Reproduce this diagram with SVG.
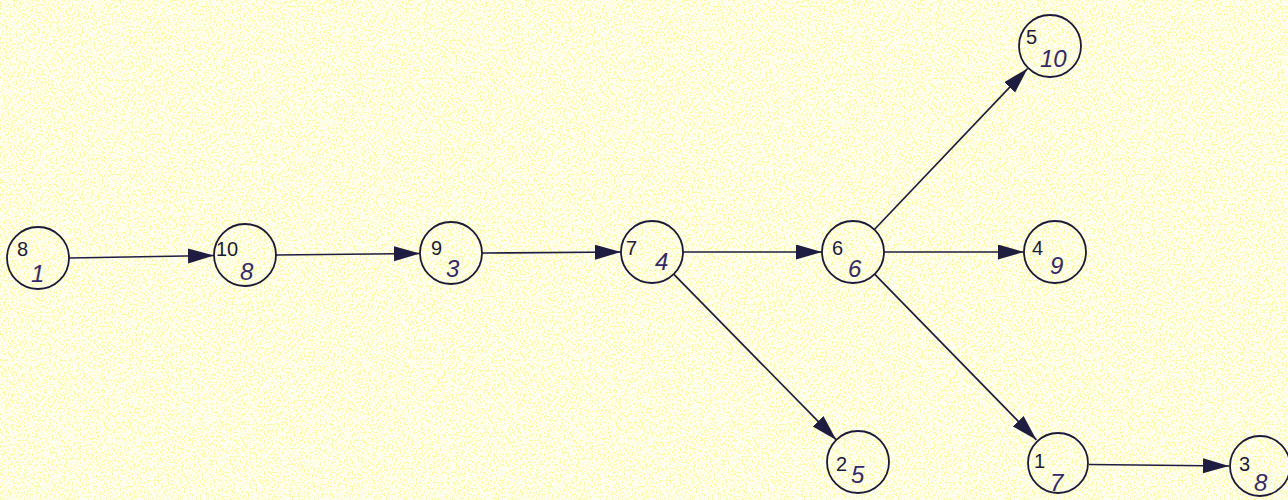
<svg xmlns="http://www.w3.org/2000/svg" width="1288" height="500" viewBox="0 0 1288 500">
  <style>
    .node circle { fill: none; stroke: #1c1a3a; stroke-width: 1.8; }
    .num { font-family: "Liberation Sans", Arial, sans-serif; font-size: 20px; fill: #1c1a3a; }
    .hand { font-family: "Liberation Sans", Arial, sans-serif; font-style: italic; font-size: 24px; fill: #34286e; }
    .edges line { stroke: #1e1c40; stroke-width: 1.7; marker-end: url(#arrow); }
  </style>
  <defs>
    <marker id="arrow" markerUnits="userSpaceOnUse" markerWidth="28" markerHeight="16" refX="26" refY="7.5" orient="auto">
      <path d="M0,0 L26,7.5 L0,15 z" fill="#1e1c40"/>
    </marker>
    <!-- pale paper with yellow speckles -->
    <filter id="grain" x="0" y="0" width="100%" height="100%">
      <feTurbulence type="fractalNoise" baseFrequency="0.5" numOctaves="2" seed="7" result="n"/>
      <feColorMatrix in="n" type="matrix" values="0 0 0 0 0.98  0 0 0 0 0.96  0 0 0 0 0.3  10 0 0 0 -5.3"/>
    </filter>
  </defs>

  <rect width="1288" height="500" fill="#fefef0"/>
  <rect width="1288" height="500" filter="url(#grain)" opacity="0.85"/>

  <g id="connectors" class="edges">
    <line x1="69" y1="258" x2="214" y2="255.5"/>
    <line x1="276" y1="255" x2="420" y2="253.5"/>
    <line x1="482" y1="253" x2="621" y2="252"/>
    <line x1="683" y1="252" x2="822" y2="252"/>
    <line x1="673.7" y1="274.1" x2="836.3" y2="439.9"/>
    <line x1="874.4" y1="229.5" x2="1027.6" y2="68.5"/>
    <line x1="884" y1="252" x2="1024" y2="252"/>
    <line x1="874.6" y1="274.2" x2="1036.4" y2="439.8"/>
    <line x1="1089" y1="464.5" x2="1229" y2="466"/>
  </g>

  <g id="node-8" class="node">
    <circle cx="38" cy="258" r="31"/>
    <text class="num" x="17" y="256">8</text>
    <text class="hand" x="31" y="282">1</text>
  </g>
  <g id="node-10" class="node">
    <circle cx="245" cy="255" r="31"/>
    <text class="num" x="216" y="256">10</text>
    <text class="hand" x="240" y="280" font-size="18">8</text>
  </g>
  <g id="node-9" class="node">
    <circle cx="451" cy="253" r="31"/>
    <text class="num" x="431" y="255">9</text>
    <text class="hand" x="446" y="277">3</text>
  </g>
  <g id="node-7" class="node">
    <circle cx="652" cy="252" r="31"/>
    <text class="num" x="626" y="255">7</text>
    <text class="hand" x="655" y="270" font-size="20">4</text>
  </g>
  <g id="node-6" class="node">
    <circle cx="853" cy="252" r="31"/>
    <text class="num" x="832" y="255">6</text>
    <text class="hand" x="848" y="277">6</text>
  </g>
  <g id="node-4" class="node">
    <circle cx="1055" cy="252" r="31"/>
    <text class="num" x="1032" y="255">4</text>
    <text class="hand" x="1050" y="274">9</text>
  </g>
  <g id="node-5" class="node">
    <circle cx="1050" cy="46" r="31"/>
    <text class="num" x="1026" y="44">5</text>
    <text class="hand" x="1040" y="67">10</text>
  </g>
  <g id="node-2" class="node">
    <circle cx="858" cy="462" r="31"/>
    <text class="num" x="836" y="471">2</text>
    <text class="hand" x="851" y="483">5</text>
  </g>
  <g id="node-1" class="node">
    <circle cx="1058" cy="463" r="30"/>
    <text class="num" x="1034" y="468">1</text>
    <text class="hand" x="1050" y="491">7</text>
  </g>
  <g id="node-3" class="node">
    <circle cx="1260" cy="466" r="30"/>
    <text class="num" x="1239" y="471">3</text>
    <text class="hand" x="1254" y="491">8</text>
  </g>
</svg>
